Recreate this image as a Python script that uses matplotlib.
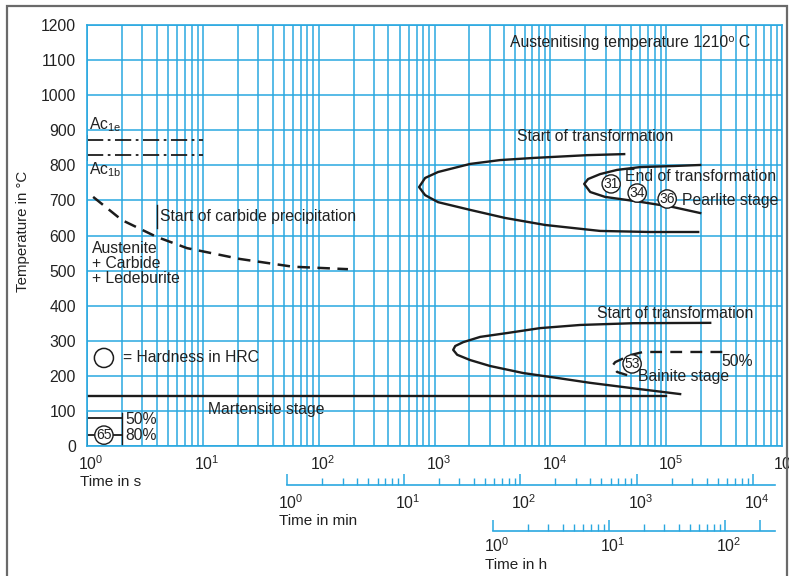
import numpy as np
import matplotlib
matplotlib.use("Agg")
import matplotlib.pyplot as plt
from matplotlib.patches import Rectangle
from matplotlib.ticker import LogLocator, LogFormatterMathtext, FixedLocator, NullFormatter
import matplotlib.transforms as mtransforms

plt.rcParams["font.family"] = ["Liberation Sans", "DejaVu Sans"]

# ---- data (time in s, temperature in deg C) ----
temp_ticks = list(range(0, 1201, 100))
sec_decades = [1, 10, 100, 1000, 10000, 100000, 1000000]

ac1e_t = [1, 10]
ac1e_T = [872, 872]
ac1b_t = [1, 10]
ac1b_T = [830, 830]

carbide_t = [1.13, 2.0, 4.0, 7.3, 21, 60, 179]
carbide_T = [710, 644, 596, 564, 533, 511, 504]

pearl_start_t = [43400, 20800, 7100, 3690, 2030, 1074, 830, 736, 830, 1074, 2030, 4070, 9020, 26900, 72700, 189000]
pearl_start_T = [832, 829, 821, 815, 804, 781, 764, 738, 715, 695, 673, 650, 630, 613, 610, 610]

pearl_end_t = [196800, 114900, 59600, 37700, 26900, 21200, 19600, 22100, 29700, 59600, 114900, 196800]
pearl_end_T = [801, 798, 795, 787, 775, 761, 747, 724, 710, 696, 681, 664]

bain_start_t = [240000, 51900, 18100, 8160, 4240, 2480, 1770, 1510, 1450, 1570, 2030, 3020, 5820, 11450, 22100, 59600, 132000]
bain_start_T = [351, 350, 345, 336, 322, 311, 296, 285, 274, 260, 245, 228, 208, 194, 180, 162, 148]

bain_50_t = [305000, 63200, 48900, 36300, 34200, 37700, 46000]
bain_50_T = [268, 268, 259, 239, 228, 211, 202]

mart_t = [1, 100000]
mart_T = [143, 143]

mart50_t = [1, 2]
mart50_T = [80, 80]
mart80_T = [31, 31]

hardness_pearlite = [("31", 33500, 747), ("34", 56200, 721), ("36", 102000, 704)]
hardness_bainite = [("53", 50800, 234)]
hardness_martensite = [("65", 1.40, 31)]

blue = "#2AA8E0"
ink = "#1c1c1c"

fig = plt.figure(figsize=(7.89, 5.76), dpi=100)
W, H = 789.0, 576.0

# frame round the whole picture
fig.patches.append(Rectangle((7 / W, -0.01), (787 - 7) / W, (576 - 6) / H + 0.01,
                             transform=fig.transFigure, fill=False, ec="#6a6a6a", lw=1.6))

ax = fig.add_axes([87 / W, (H - 446) / H, (782 - 87) / W, (446 - 25) / H])
ax.set_xscale("log")
ax.set_xlim(1, 1e6)
ax.set_ylim(0, 1200)
ax.set_yticks(temp_ticks)
ax.xaxis.set_major_locator(FixedLocator(sec_decades))
ax.xaxis.set_major_formatter(LogFormatterMathtext())
ax.xaxis.set_minor_locator(LogLocator(base=10, subs=np.arange(2, 10), numticks=20))
ax.xaxis.set_minor_formatter(NullFormatter())
ax.grid(True, which="both", axis="x", color=blue, lw=1.1)
ax.grid(True, which="major", axis="y", color=blue, lw=1.1)
ax.set_axisbelow(True)
for s in ax.spines.values():
    s.set_color(blue)
    s.set_linewidth(1.2)
ax.tick_params(axis="both", which="both", length=0, labelsize=11.3, colors="#222")
ax.tick_params(axis="y", pad=8)
ax.tick_params(axis="x", pad=6)
shift = mtransforms.ScaledTranslation(4 / 100, 0, fig.dpi_scale_trans)
for lab in ax.get_xticklabels():
    lab.set_transform(lab.get_transform() + shift)

ax.set_ylabel("Temperature in °C", fontsize=10.8, color="#222")
ax.yaxis.set_label_coords(-0.082, 0.51)
ax.text(-0.01, -0.085, "Time in s", transform=ax.transAxes, fontsize=11, color="#222", va="center")

# curves
ax.plot(ac1e_t, ac1e_T, color=ink, lw=1.3, dashes=[9, 2.5, 1.5, 2.5])
ax.plot(ac1b_t, ac1b_T, color=ink, lw=1.3, dashes=[9, 2.5, 1.5, 2.5])
ax.plot([1, 1], [815, 885], color=ink, lw=1.3)
ax.plot(carbide_t, carbide_T, color=ink, lw=1.8, dashes=[5, 3])
ax.plot([4.02, 4.02], [621, 687], color=ink, lw=1.0)
ax.plot(pearl_start_t, pearl_start_T, color=ink, lw=1.7)
ax.plot(pearl_end_t, pearl_end_T, color=ink, lw=1.7)
ax.plot(bain_start_t, bain_start_T, color=ink, lw=1.7)
ax.plot(bain_50_t, bain_50_T, color=ink, lw=1.7, dashes=[5, 3.5])
ax.plot(mart_t, mart_T, color=ink, lw=1.7)
ax.plot(mart50_t, mart50_T, color=ink, lw=1.3)
ax.plot(mart50_t, mart80_T, color=ink, lw=1.3)
ax.plot([1, 1], [0, 94], color=ink, lw=1.3)
ax.plot([2, 2], [0, 94], color=ink, lw=1.0)

fs = 11.3
tk = dict(fontsize=fs, color="#222", va="center", ha="left")
ax.text(4500, 1149, "Austenitising temperature 1210⁰ C", **tk)
ax.text(1.04, 915, "Ac$_{\\mathregular{1e}}$", **tk)
ax.text(1.04, 787, "Ac$_{\\mathregular{1b}}$", **tk)
ax.text(4.27, 653, "Start of carbide precipitation", **tk)
ax.text(1.10, 521, "Austenite\n+ Carbide\n+ Ledeburite", linespacing=1.0, **tk)
ax.text(5170, 881, "Start of transformation", **tk)
ax.text(44300, 767, "End of transformation", **tk)
ax.text(137000, 701, "Pearlite stage", **tk)
ax.text(25400, 379, "Start of transformation", **tk)
ax.text(1.40, 251, "    ", fontsize=fs, ha="center", va="center",
        bbox=dict(boxstyle="circle,pad=0.05", fc="white", ec=ink, lw=1.1))
ax.text(2.05, 251, "= Hardness in HRC", **tk)
ax.text(11.1, 105, "Martensite stage", **tk)
ax.text(2.13, 76, "50%", **tk)
ax.text(2.13, 31, "80%", **tk)
ax.text(300000, 240, "50%", **tk)
ax.text(57000, 197, "Bainite stage", **tk)

for lab, t, T in hardness_pearlite + hardness_bainite + hardness_martensite:
    ax.text(t, T, lab, fontsize=10, color="#222", ha="center", va="center",
            bbox=dict(boxstyle="circle,pad=0.1", fc="white", ec=ink, lw=1.0))


def time_axis(x0, x1, y, lo, hi, majors, label, label_y, pad):
    a = fig.add_axes([x0 / W, (H - y) / H, (x1 - x0) / W, 0.001])
    a.set_xscale("log")
    a.set_xlim(lo, hi)
    a.patch.set_visible(False)
    for k in ("top", "left", "right"):
        a.spines[k].set_visible(False)
    a.spines["bottom"].set_color(blue)
    a.spines["bottom"].set_linewidth(1.2)
    a.set_yticks([])
    a.xaxis.set_major_locator(FixedLocator(majors))
    a.xaxis.set_major_formatter(LogFormatterMathtext(labelOnlyBase=True))
    a.xaxis.set_minor_locator(LogLocator(base=10, subs=np.arange(2, 10), numticks=20))
    a.xaxis.set_minor_formatter(NullFormatter())
    a.tick_params(axis="x", which="major", direction="in", length=8, width=1.1,
                  color=blue, labelsize=11.3, labelcolor="#222", pad=pad)
    a.tick_params(axis="x", which="minor", direction="in", length=5, width=1.0, color=blue)
    for lab in a.get_xticklabels():
        lab.set_transform(lab.get_transform() + shift)
    fig.text((x0 - 8) / W, (H - label_y) / H, label, fontsize=11, color="#222", va="center")
    return a


# minutes: 1 min at x=287, decade ~116.5 px, line to x=775
time_axis(287, 775, 485, 1, 10 ** (488 / 116.5), [1, 10, 100, 1000, 10000], "Time in min", 521, 6)
# hours: 1 h at x=493, decade ~116 px, line to x=775
time_axis(493, 775, 531, 1, 10 ** (282 / 116.0), [1, 10, 100, 200], "Time in h", 565, 4)

fig.savefig("out.png", dpi=100)
